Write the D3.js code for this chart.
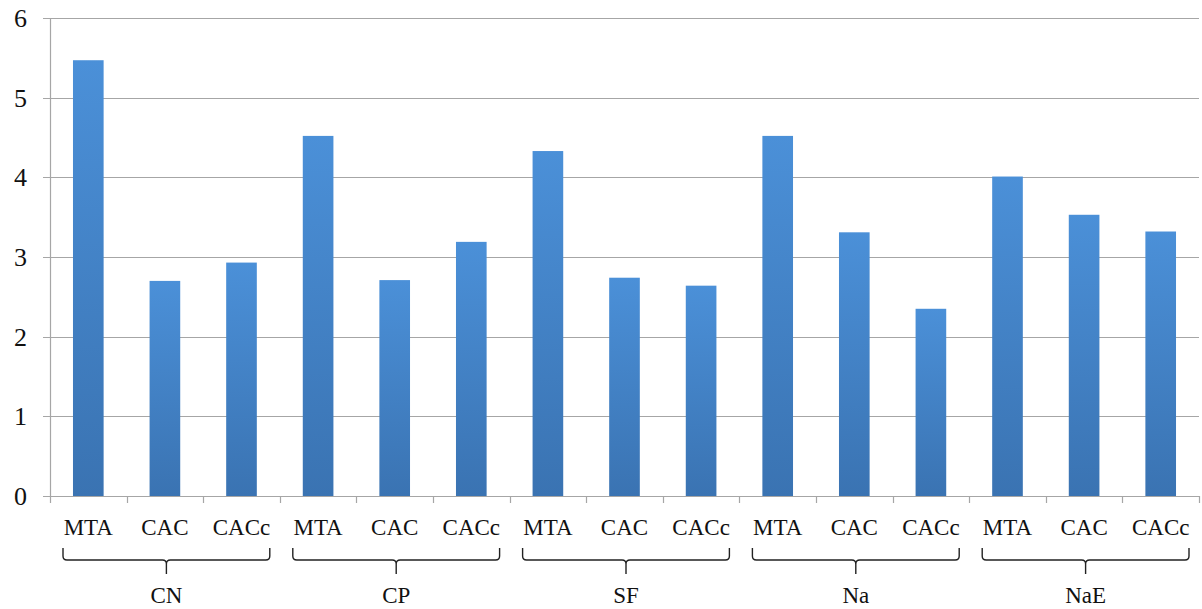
<!DOCTYPE html>
<html>
<head>
<meta charset="utf-8">
<script src="https://cdn.jsdelivr.net/npm/d3@7"></script>
<style>
  html, body { margin: 0; padding: 0; background: #fff; }
  svg { display: block; }
  text { font-family: "Liberation Serif", "Times New Roman", serif; fill: #111; }
</style>
</head>
<body>
<svg id="chart" width="1202" height="609"></svg>
<script>
// Groups, sub-categories and measured values
const groups = ["CN", "CP", "SF", "Na", "NaE"];
const subCategories = ["MTA", "CAC", "CACc"];
const cnValues  = [5.47, 2.70, 2.93];
const cpValues  = [4.52, 2.71, 3.19];
const sfValues  = [4.33, 2.74, 2.64];
const naValues  = [4.52, 3.31, 2.35];
const naeValues = [4.01, 3.53, 3.32];
const yTicks = [0, 1, 2, 3, 4, 5, 6];

const groupValues = [cnValues, cpValues, sfValues, naValues, naeValues];
const rows = [];
groups.forEach((g, gi) => {
  subCategories.forEach((s, si) => {
    rows.push({ key: g + "-" + s, group: g, label: s, value: groupValues[gi][si] });
  });
});

const width = 1202, height = 609;
const margin = { top: 18, right: 3, bottom: 113, left: 50 };
const svg = d3.select("#chart");

const x = d3.scaleBand()
  .domain(rows.map(d => d.key))
  .range([margin.left, width - margin.right])
  .paddingInner(0.6)
  .paddingOuter(0.3);

const y = d3.scaleLinear()
  .domain([0, 6])
  .range([height - margin.bottom, margin.top]);

// Bar fill gradient, lighter at the top
const defs = svg.append("defs");
const grad = defs.append("linearGradient")
  .attr("id", "barGrad").attr("x1", 0).attr("y1", 0).attr("x2", 0).attr("y2", 1);
grad.append("stop").attr("offset", "0%").attr("stop-color", "#4b90d8");
grad.append("stop").attr("offset", "100%").attr("stop-color", "#3a73b2");

// Horizontal gridlines with short left ticks
svg.append("g")
  .selectAll("line")
  .data(yTicks)
  .join("line")
  .attr("x1", margin.left - 7)
  .attr("x2", width - margin.right)
  .attr("y1", d => Math.round(y(d)) + 0.5)
  .attr("y2", d => Math.round(y(d)) + 0.5)
  .attr("stroke", "#a6a6a6")
  .attr("stroke-width", 1.2);

// Vertical axis line
svg.append("line")
  .attr("x1", margin.left + 0.5).attr("x2", margin.left + 0.5)
  .attr("y1", y(6)).attr("y2", y(0))
  .attr("stroke", "#a6a6a6").attr("stroke-width", 1.2);

// Y tick labels
svg.append("g")
  .selectAll("text")
  .data(yTicks)
  .join("text")
  .attr("x", 27)
  .attr("y", d => y(d))
  .attr("dy", "0.35em")
  .attr("text-anchor", "end")
  .attr("font-size", 26)
  .text(d => d);

// Category boundary ticks below the baseline
const step = x.step();
const x0 = margin.left;
const boundaries = d3.range(rows.length + 1).map(i => x0 + i * (width - margin.right - margin.left) / rows.length);
svg.append("g")
  .selectAll("line")
  .data(boundaries)
  .join("line")
  .attr("x1", d => Math.round(d) + 0.5)
  .attr("x2", d => Math.round(d) + 0.5)
  .attr("y1", y(0))
  .attr("y2", y(0) + 7)
  .attr("stroke", "#a6a6a6")
  .attr("stroke-width", 1.2);

// Bars
svg.append("g")
  .selectAll("rect")
  .data(rows)
  .join("rect")
  .attr("x", d => x(d.key))
  .attr("width", x.bandwidth())
  .attr("y", d => y(d.value))
  .attr("height", d => y(0) - y(d.value))
  .attr("fill", "url(#barGrad)");

// Sub-category labels
svg.append("g")
  .selectAll("text")
  .data(rows)
  .join("text")
  .attr("x", d => x(d.key) + x.bandwidth() / 2)
  .attr("y", 535)
  .attr("text-anchor", "middle")
  .attr("font-size", 23)
  .text(d => d.label);

// Curly braces grouping each set of three bars
const bandW = (width - margin.right - margin.left) / rows.length;
const braceG = svg.append("g");
groups.forEach((g, gi) => {
  const left = x0 + gi * 3 * bandW + 13;
  const right = x0 + (gi + 1) * 3 * bandW - 10;
  const c = (left + right) / 2;
  const top = 548, mid = 560, bottom = 574, r = 4;
  const p = d3.path();
  p.moveTo(left, top);
  p.lineTo(left, mid - r);
  p.quadraticCurveTo(left, mid, left + r, mid);
  p.lineTo(c - r, mid);
  p.quadraticCurveTo(c, mid, c, mid + r);
  p.lineTo(c, bottom);
  p.moveTo(c, mid + r);
  p.quadraticCurveTo(c, mid, c + r, mid);
  p.lineTo(right - r, mid);
  p.quadraticCurveTo(right, mid, right, mid - r);
  p.lineTo(right, top);
  braceG.append("path")
    .attr("d", p.toString())
    .attr("fill", "none")
    .attr("stroke", "#222")
    .attr("stroke-width", 1.4);
  braceG.append("text")
    .attr("x", c)
    .attr("y", 603)
    .attr("text-anchor", "middle")
    .attr("font-size", 23)
    .text(g);
});
</script>
</body>
</html>
